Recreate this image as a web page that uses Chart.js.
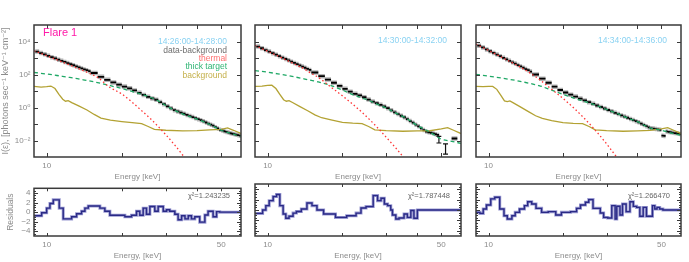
<!DOCTYPE html>
<html><head><meta charset="utf-8">
<script src="https://cdn.jsdelivr.net/npm/chart.js@4.4.1/dist/chart.umd.min.js"></script>
<style>
html,body{margin:0;padding:0;background:#fff;}
body{width:689px;height:262px;position:relative;overflow:hidden;}
canvas{position:absolute;}
</style></head><body>
<canvas id="s1"></canvas><canvas id="s2"></canvas><canvas id="s3"></canvas>
<canvas id="r1"></canvas><canvas id="r2"></canvas><canvas id="r3"></canvas>
<script>
// ---------- DATA (log10 of flux, photons s^-1 keV^-1 cm^-2) ----------
const BIN_LO = [9,9.333,9.667,10,10.333,10.667,11,11.333,11.667,12,12.333,12.667,13,13.333,13.667,14,14.333,14.667,
  15,16,17,18,19,20,21,22,23,24,25,26,27,28,29,30,31,32,33,34,35,36,37,38,39,40,41,42,43,44,45,46,47,48,49,50,51,52,53,54,55,56,57,58,59];
const BIN_HI = [9.333,9.667,10,10.333,10.667,11,11.333,11.667,12,12.333,12.667,13,13.333,13.667,14,14.333,14.667,15,
  16,17,18,19,20,21,22,23,24,25,26,27,28,29,30,31,32,33,34,35,36,37,38,39,40,41,42,43,44,45,46,47,48,49,50,51,52,53,54,55,56,57,58,59,60];
const DATA1 = [3.39,3.30,3.22,3.13,3.05,2.98,2.90,2.83,2.76,2.69,2.62,2.56,2.49,2.43,2.37,2.31,2.26,2.20,
  2.09,1.86,1.68,1.52,1.385,1.27,1.16,1.035,0.89,0.76,0.65,0.55,0.47,0.33,0.20,0.07,-0.05,-0.16,-0.24,-0.31,-0.38,-0.45,-0.52,-0.58,-0.65,-0.71,-0.77,-0.84,-0.91,-0.98,-1.04,-1.10,-1.19,-1.27,-1.35,-1.39,-1.44,-1.48,-1.52,-1.56,-1.59,-1.62,-1.65,-1.68,-1.71];
const DATA2 = [3.69,3.59,3.48,3.39,3.29,3.20,3.11,3.02,2.94,2.86,2.78,2.70,2.63,2.55,2.48,2.41,2.34,2.28,
  2.12,1.90,1.69,1.50,1.31,1.13,0.96,0.83,0.73,0.62,0.48,0.36,0.26,0.16,0.06,-0.04,-0.17,-0.29,-0.40,-0.50,-0.59,-0.70,-0.82,-0.92,-1.04,-1.14,-1.26,-1.37,-1.46,-1.50,-1.53,-1.57,-1.62,-1.66,null,null,null,null,null,null,-1.88,-1.88,-1.88,null,null];
const DATA3 = [3.75,3.64,3.52,3.41,3.31,3.21,3.11,3.01,2.92,2.83,2.74,2.66,2.57,2.49,2.41,2.33,2.26,2.18,
  2.00,1.75,1.50,1.26,1.06,0.91,0.78,0.66,0.54,0.43,0.32,0.22,0.12,0.03,-0.06,-0.15,-0.23,-0.32,-0.40,-0.48,-0.55,-0.62,-0.69,-0.76,-0.83,-0.90,-0.98,-1.06,-1.13,-1.21,-1.26,-1.28,-1.31,-1.33,-1.35,-1.71,-1.72,-1.45,-1.48,-1.50,-1.52,-1.55,-1.56,-1.58,-1.60];
// error bars (panel 2)
const ERR_E2 = [48.9,52.0], ERR_ELO2 = [47.8,50.8], ERR_EHI2 = [50.0,53.2];
const ERR_HI2 = [-1.75,-2.21], ERR_LO2 = [-2.15,-2.82];
// thermal model
const THERM_E = [8.9,10,11,12,13,14,15,16,18,20,22,24,26,28,30,33,36];
const THERM1 = [3.44,3.14,2.89,2.66,2.44,2.24,2.03,1.82,1.20,0.82,0.32,-0.19,-0.67,-1.16,-1.65,-2.38,-3.11];
const THERM2 = [3.76,3.41,3.12,2.85,2.59,2.35,2.06,1.83,1.23,0.71,0.20,-0.30,-0.80,-1.30,-1.80,-2.50,-3.20];
const THERM3 = [3.84,3.46,3.14,2.84,2.57,2.30,2.01,1.72,1.10,0.55,0.00,-0.55,-1.10,-1.65,-2.20,-3.02,-3.80];
// thick target model
const THICK_E = [8.9,10,11,12,13,14,15,16,18,20,22,24,26,28,30,33,36,40,45,50,55,60];
const THICK1 = [2.12,2.03,1.94,1.85,1.77,1.68,1.60,1.51,1.32,1.15,0.97,0.80,0.62,0.40,0.12,-0.22,-0.46,-0.70,-1.03,-1.38,-1.58,-1.76];
const THICK2 = [2.24,2.14,2.04,1.94,1.84,1.74,1.64,1.55,1.33,1.06,0.78,0.58,0.38,0.16,-0.03,-0.36,-0.64,-1.09,-1.50,-1.92,-2.05,-2.18];
const THICK3 = [2.00,1.90,1.81,1.72,1.63,1.53,1.43,1.33,1.05,0.80,0.58,0.40,0.24,0.06,-0.12,-0.35,-0.60,-0.86,-1.24,-1.38,-1.55,-1.68];
// background
const BG_E = [8.9,9.5,10.0,10.4,10.8,11.2,11.6,11.9,12.2,12.6,13.5,14.5,15.5,16.5,18,20,22,24,25.5,27,30,35,40,45,50,53,56,60];
const BG1 = [1.28,1.24,1.27,1.30,1.15,0.80,0.50,0.38,0.42,0.30,0.08,-0.15,-0.42,-0.64,-0.76,-0.85,-0.92,-0.98,-1.15,-1.33,-1.38,-1.42,-1.40,-1.36,-1.32,-1.24,-1.38,-1.58];
const BG2 = [1.28,1.30,1.34,1.35,1.15,0.80,0.47,0.38,0.42,0.30,0.05,-0.20,-0.45,-0.62,-0.75,-0.90,-0.95,-0.98,-1.15,-1.35,-1.40,-1.44,-1.42,-1.41,-1.30,-1.22,-1.38,-1.58];
const BG3 = [1.28,1.26,1.28,1.28,1.10,0.75,0.40,0.36,0.40,0.28,0.02,-0.25,-0.50,-0.66,-0.80,-0.92,-0.96,-0.98,-1.15,-1.35,-1.40,-1.44,-1.42,-1.39,-1.30,-1.22,-1.38,-1.58];
// residuals (step start energy, value)
const RES_E1 = [8.9,9.55,10.0,10.31,10.63,11.23,11.65,12.59,13.18,13.8,14.23,14.68,16.34,17.1,17.91,20.57,21.87,22.9,23.6,24.35,25.1,25.9,27.1,27.96,29.3,30.2,31.1,32.6,33.6,34.7,35.8,36.9,38.0,39.2,41.0,43.0,44.3,46.4,47.9,49.3];
const RES_V1 = [-0.77,-0.13,0.84,1.8,2.58,0.84,-1.42,-0.97,-0.32,0.19,0.84,1.29,0.84,0.19,-0.65,-0.97,-0.65,0.19,-0.65,0.84,-0.45,1.2,0.19,1.2,0.19,0.5,0.19,-0.45,-1.6,-0.77,-1.42,-0.77,-1.42,-0.97,-2.1,-0.6,0.19,-0.97,0.1,0.0];
const RES_E2 = [8.9,9.55,9.84,10.15,10.53,10.86,11.2,11.55,11.84,12.2,12.66,13.06,13.67,14.4,15.09,15.8,16.8,18.76,20.8,22.7,23.76,24.9,26.6,27.7,28.6,29.5,30.4,31.3,31.8,32.8,33.8,35.4,36.5,37.7,38.8,40.05];
const RES_V2 = [-0.65,0,0.84,1.8,2.58,2.97,0.84,-0.77,-1.6,-1.2,-0.6,-0.3,0.2,1.35,0.84,0,-0.77,-1.42,-1.1,-0.6,0.39,0.65,2.77,1.8,2.26,1.16,0.84,0,-0.97,-1.74,-1.55,-0.77,-1.42,-0.1,-1.6,0];
const RES_E3 = [8.87,9.23,9.52,9.81,10.21,10.6,11.1,11.55,11.91,12.43,12.82,13.34,13.97,14.4,14.95,15.56,16.39,17.43,18.7,19.71,21.47,22.7,23.54,24.65,25.42,26.45,28.3,29.2,30.3,31.5,32.5,33.0,34.0,34.8,36.0,37.3,38.5,39.7,40.9,42.2,43.5,46.0,47.0,48.0,49.2,50.7];
const RES_V3 = [-0.45,-0.65,0.2,0.97,2.13,2.45,0.19,-1.1,-1.74,-1.1,-0.45,0.19,0.84,1.6,1.16,0.32,-0.45,-0.32,-0.97,-0.45,-0.32,0.32,0.97,1.48,2.0,0.32,-0.58,-1.42,-1.55,0.84,-1.74,0.71,-0.97,1.16,-0.32,1.6,0.7,0.5,-1.2,0.5,-1.2,0.84,0.2,0.5,0.2,0];
const CHI2 = ['1.243235','1.787448','1.266470'];
const TIMES = ['14:26:00-14:28:00','14:30:00-14:32:00','14:34:00-14:36:00'];
const LEGEND = ['data-background','thermal','thick target','background'];
// ticks
const X_MIN = 8.9, X_MAX = 60;
const X_TICK_LABELS_TOP = [10];
const X_TICK_LABELS_RES = [10, 50];
const X_TICK_MARKS = [10,20,30,40,50];
const Y_TICK_LABELS = [1e-2,1,1e2,1e4];
const Y_DECADES = [1e-2,1e-1,1,1e1,1e2,1e3,1e4];
const RES_TICK_LABELS = [-4,-2,0,2,4];
const RES_MINOR = [-4.5,-3.5,-3,-2.5,-1.5,-1,-0.5,0.5,1,1.5,2.5,3,3.5,4.5];

// ---------- rendering ----------
const FONT = "'Liberation Sans','DejaVu Sans',Arial,sans-serif";
const GRAY = '#8c8c8c';
const SUP = {'-2':'10\u207B\u00B2','0':'10\u2070','2':'10\u00B2','4':'10\u2074'};
const PLOT_L = [34,255,476], PLOT_W = [207,206,205];

const pw = v => (v === null ? null : Math.pow(10, v));
function curve(xs, ls){ return xs.map((x,i)=>({x, y: pw(ls[i])})); }
function binSegs(ls){ const p=[]; BIN_LO.forEach((l,i)=>{ if(ls[i]===null) return; const y=pw(ls[i]); p.push({x:l,y},{x:BIN_HI[i],y},{x:BIN_HI[i],y:null}); }); return p; }
function errSegs(E, elo, ehi, lo, hi){ const p=[]; E.forEach((e,i)=>{ const a=pw(lo[i]), b=pw(hi[i]);
  p.push({x:e,y:a},{x:e,y:b},{x:e,y:null},{x:elo[i],y:a},{x:ehi[i],y:a},{x:ehi[i],y:null},{x:elo[i],y:b},{x:ehi[i],y:b},{x:ehi[i],y:null}); }); return p; }
function steps(E, V){ const p=E.map((e,i)=>({x:e,y:V[i]})); p.push({x:X_MAX,y:V[V.length-1]}); return p; }

const framePlugin = {
  id:'frame',
  afterDatasetsDraw(chart, args, o){
    const {ctx, chartArea:a, scales:{x,y}} = chart;
    ctx.save();
    const ln=(x1,y1,x2,y2)=>{ctx.beginPath();ctx.moveTo(x1,y1);ctx.lineTo(x2,y2);ctx.stroke();};
    ctx.strokeStyle='#3a3a3a'; ctx.lineWidth=1;
    for(const v of o.xt){ const p=Math.round(x.getPixelForValue(v))+0.5; ln(p,a.bottom,p,a.bottom-o.xl); ln(p,a.top,p,a.top+o.xl); }
    for(const v of o.yt){ const p=Math.round(y.getPixelForValue(v))+0.5; ln(a.left,p,a.left+o.yl,p); ln(a.right,p,a.right-o.yl,p); }
    for(const v of (o.ym||[])){ const p=Math.round(y.getPixelForValue(v))+0.5; ln(a.left,p,a.left+2,p); ln(a.right,p,a.right-2,p); }
    ctx.lineWidth=1.5;
    ctx.strokeRect(a.left, a.top, a.right-a.left, a.bottom-a.top);
    ctx.textBaseline='middle';
    for(const t of (o.texts||[])){
      ctx.font = t.size+'px '+FONT; ctx.fillStyle=t.color;
      if(t.left!==undefined){ ctx.textAlign='left'; ctx.fillText(t.t, a.left+t.left, t.y); }
      else { ctx.textAlign='right'; ctx.fillText(t.t, a.right-t.right, t.y); }
    }
    ctx.restore();
  }
};

function base(id, left, top, w, h){
  const cv=document.getElementById(id);
  cv.width=w; cv.height=h; cv.style.left=left+'px'; cv.style.top=top+'px';
  cv.style.width=w+'px'; cv.style.height=h+'px';
  return cv;
}
const tickFont = {family:FONT,size:8};
const titleFont = {family:FONT,size:8};

function topChart(i){
  const L=PLOT_L[i], W=PLOT_W[i];
  const cv=base('s'+(i+1), L-34, 0, 34+W+8, 183);
  const D=[DATA1,DATA2,DATA3][i], TH=[THERM1,THERM2,THERM3][i], TK=[THICK1,THICK2,THICK3][i], BG=[BG1,BG2,BG3][i];
  const ln = {showLine:true, pointRadius:0, fill:false, spanGaps:false, clip:0, tension:0};
  const datasets=[
    {...ln, data:binSegs(D), borderColor:'#b4b4b4', borderWidth:4.5, borderCapStyle:'butt', order:10},
    {...ln, data:binSegs(D), borderColor:'#000', borderWidth:1.8, borderCapStyle:'butt', order:9},
    {...ln, data:curve(BG_E,BG), borderColor:'#b3a233', borderWidth:1.3, order:5},
    {...ln, data:curve(THICK_E,TK), borderColor:'#1fa866', borderWidth:1.3, borderDash:[4,3], cubicInterpolationMode:'monotone', order:4},
    {...ln, data:curve(THERM_E,TH), borderColor:'#ff3535', borderWidth:1.3, borderDash:[1.5,2.5], cubicInterpolationMode:'monotone', order:3},
  ];
  if(i===1){
    datasets.push({...ln, data:errSegs(ERR_E2,ERR_ELO2,ERR_EHI2,ERR_LO2,ERR_HI2), borderColor:'#111', borderWidth:1.2, order:8});
  }
  const texts=[{t:TIMES[i], right:14, y:i===0?41.7:40.7, color:'#8ad2f2', size:8.5}];
  if(i===0){
    texts.push({t:'Flare 1', left:9, y:32.5, color:'#ff1aa8', size:11});
    const cols=['#6e6e6e','#ff6e6e','#2fb574','#c4b04a'];
    LEGEND.forEach((s,k)=>texts.push({t:s, right:14, y:50.2+k*8.45, color:cols[k], size:8.5}));
  }
  new Chart(cv,{type:'scatter', data:{datasets}, plugins:[framePlugin], options:{
    responsive:false, animation:false, devicePixelRatio:1, events:[],
    layout:{padding:{top:25,right:8,left:0,bottom:0}},
    plugins:{legend:{display:false}, tooltip:{enabled:false},
      frame:{xt:X_TICK_MARKS, xl:4, yt:Y_DECADES, yl:4, texts}},
    scales:{
      x:{type:'logarithmic', min:X_MIN, max:X_MAX, grid:{display:false,drawTicks:false}, border:{display:false},
        afterBuildTicks:s=>{s.ticks=X_TICK_LABELS_TOP.map(v=>({value:v}));},
        ticks:{callback:v=>String(v), color:GRAY, font:tickFont, padding:4, maxRotation:0, autoSkip:false},
        title:{display:true, text:'Energy [keV]', color:GRAY, font:titleFont, padding:{top:0,bottom:1}},
        afterFit:s=>{s.height=26;}},
      y:{type:'logarithmic', min:1e-3, max:1e5, grid:{display:false,drawTicks:false}, border:{display:false},
        afterBuildTicks:s=>{s.ticks=Y_TICK_LABELS.map(v=>({value:v}));},
        ticks:{display:i===0, callback:v=>SUP[String(Math.round(Math.log10(v)))]||'', color:GRAY, font:tickFont, padding:3.5, autoSkip:false},
        title:{display:i===0, text:'I(\u03B5), [photons sec\u207B\u00B9 keV\u207B\u00B9 cm\u207B\u00B2]', color:GRAY, font:{family:FONT,size:9}, padding:{top:0.5,bottom:0}},
        afterFit:s=>{s.width=34;}}
    }
  }});
}

function resChart(i){
  const L=PLOT_L[i], W=PLOT_W[i];
  const cv=base('r'+(i+1), L-34, 180, 34+W+8, 82);
  const E=[RES_E1,RES_E2,RES_E3][i], V=[RES_V1,RES_V2,RES_V3][i];
  const ln = {showLine:true, pointRadius:0, fill:false, clip:0, stepped:'before'};
  const datasets=[
    {...ln, data:steps(E,V), borderColor:'#9a9ad2', borderWidth:3, order:2},
    {...ln, data:steps(E,V), borderColor:'#2a2a86', borderWidth:1.4, order:1},
  ];
  const texts=[{t:'\u03C7\u00B2='+CHI2[i], right:11, y:16, color:'#666', size:7.5}];
  new Chart(cv,{type:'scatter', data:{datasets}, plugins:[framePlugin], options:{
    responsive:false, animation:false, devicePixelRatio:1, events:[],
    layout:{padding:{top:4,right:8,left:0,bottom:0}},
    plugins:{legend:{display:false}, tooltip:{enabled:false},
      frame:{xt:X_TICK_MARKS, xl:3, yt:RES_TICK_LABELS, yl:4, ym:RES_MINOR, texts}},
    scales:{
      x:{type:'logarithmic', min:X_MIN, max:X_MAX, grid:{display:false,drawTicks:false}, border:{display:false},
        afterBuildTicks:s=>{s.ticks=X_TICK_LABELS_RES.map(v=>({value:v}));},
        ticks:{callback:v=>String(v), color:GRAY, font:tickFont, padding:4, maxRotation:0, autoSkip:false},
        title:{display:true, text:'Energy, [keV]', color:GRAY, font:titleFont, padding:{top:0,bottom:1}},
        afterFit:s=>{s.height=26;}},
      y:{type:'linear', min:-5, max:5, grid:{display:false,drawTicks:false}, border:{display:false},
        afterBuildTicks:s=>{s.ticks=RES_TICK_LABELS.map(v=>({value:v}));},
        ticks:{display:i===0, callback:v=>(v<0?'\u2212'+(-v):String(v)), color:GRAY, font:tickFont, padding:3.5, autoSkip:false},
        title:{display:i===0, text:'Residuals', color:GRAY, font:{family:FONT,size:8.5}, padding:{top:5.5,bottom:0}},
        afterFit:s=>{s.width=34;}}
    }
  }});
}
[0,1,2].forEach(i=>{topChart(i); resChart(i);});
</script>
</body></html>
